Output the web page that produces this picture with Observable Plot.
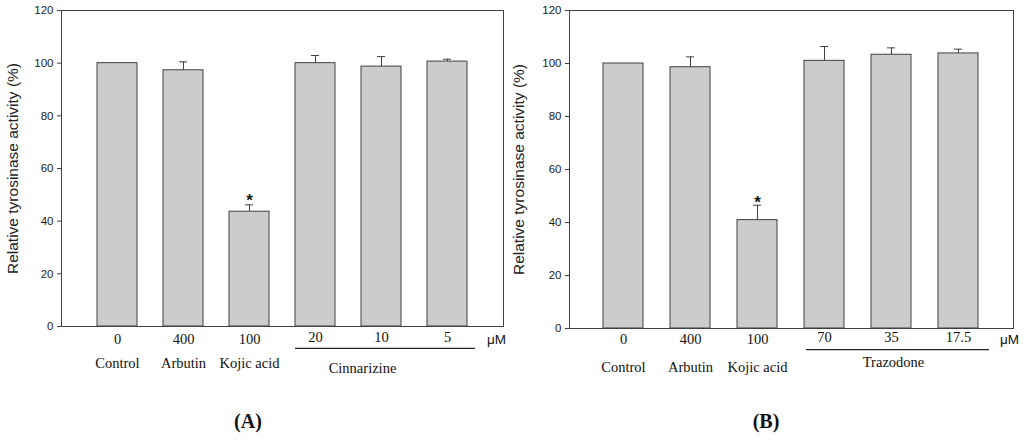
<!DOCTYPE html>
<html><head><meta charset="utf-8">
<script src="https://cdn.jsdelivr.net/npm/d3@7"></script>
<script src="https://cdn.jsdelivr.net/npm/@observablehq/plot@0.6"></script>
<style>
body{margin:0;background:#fff;width:1024px;height:441px;overflow:hidden;position:relative}
#row{display:flex;position:absolute;left:0;top:0}
.panel{position:absolute;top:410px;font:bold 20px "Liberation Serif","Times New Roman",serif;color:#111;transform:translateX(-50%)}
</style></head><body>
<div id="row"></div>
<div class="panel" style="left:248px">(A)</div>
<div class="panel" style="left:766px">(B)</div>
<script>
// Panel A
const compoundsA = ["Control","Arbutin","Kojic acid","Cinnarizine","Cinnarizine","Cinnarizine"];
const dosesA = ["0","400","100","20","10","5"];
const valuesA = [100, 97.3, 43.6, 100, 98.7, 100.6];
const errorsA = [0, 3.2, 2.6, 2.9, 3.8, 0.9];
// Panel B
const compoundsB = ["Control","Arbutin","Kojic acid","Trazodone","Trazodone","Trazodone"];
const dosesB = ["0","400","100","70","35","17.5"];
const valuesB = [100, 98.6, 40.9, 101.0, 103.3, 103.8];
const errorsB = [0, 3.9, 5.6, 5.4, 2.6, 1.6];
// Axis
const yTicks = [0, 20, 40, 60, 80, 100, 120];
const yLabel = "Relative tyrosinase activity (%)";
const unitLabel = "μM";
const sigLabel = "*";

const LINE = "#404040";
const SERIF = "Liberation Serif, Times New Roman, serif";
const SANS = "Liberation Sans, Arial, sans-serif";

function makePanel(cfg) {
  const {compounds, doses, values, errors, group} = cfg;
  const data = compounds.map((c, i) => ({
    key: c + " " + doses[i], compound: c, dose: doses[i],
    value: values[i], err: errors[i], upper: values[i] + errors[i]
  }));
  const singles = data.filter(d => d.compound !== group);
  const grouped = data.filter(d => d.compound === group);
  const withErr = data.filter(d => d.err > 0);
  const H = 380;
  const bottomText = {frameAnchor: "bottom", lineAnchor: "middle", textAnchor: "middle", fontFamily: SERIF, fontSize: 14.5, fill: "#111"};
  const plot = Plot.plot({
    width: 512, height: H,
    marginLeft: cfg.mL, marginRight: cfg.mR, marginTop: 10, marginBottom: cfg.mB,
    style: {fontFamily: SANS, fontSize: "11.5px", color: "#222", background: "#fff", overflow: "visible"},
    x: {domain: data.map(d => d.key), paddingInner: 0.4, paddingOuter: cfg.po, axis: null},
    y: {domain: [0, 120], axis: null},
    marks: [
      Plot.barY(data, {x: "key", y: "value", fill: "#cccccc", stroke: LINE, strokeWidth: 1}),
      Plot.ruleX(withErr, {x: "key", y1: "value", y2: "upper", stroke: LINE, strokeWidth: 1}),
      Plot.tickY(withErr, {x: "key", y: "upper", stroke: LINE, strokeWidth: 1, insetLeft: 16, insetRight: 16}),
      Plot.frame({stroke: LINE, strokeWidth: 1}),
      Plot.axisY({ticks: yTicks, tickSize: 4, tickPadding: 4, label: null, stroke: LINE, fontSize: 11.5}),
      Plot.text([yLabel], {frameAnchor: "left", textAnchor: "middle", lineAnchor: "middle", rotate: -90, dx: cfg.labelDx, fontSize: 15.5, fill: "#222"}),
      Plot.text(data.filter(d => d.compound === "Kojic acid"), {x: "key", y: "upper", text: () => sigLabel, dy: cfg.starDy, fontSize: 17, fontWeight: "bold", fill: "#111"}),
      Plot.text(singles, {...bottomText, x: "key", text: "dose", dy: cfg.doseDy}),
      Plot.text(grouped, {...bottomText, x: "key", text: "dose", dy: cfg.gDoseDy}),
      Plot.text(singles, {...bottomText, x: "key", text: "compound", dy: cfg.nameDy}),
      Plot.text([grouped[1]], {...bottomText, x: "key", text: "compound", dy: cfg.groupDy, dx: cfg.groupDx}),
      Plot.text([unitLabel], {frameAnchor: "bottom-right", textAnchor: "middle", lineAnchor: "middle", dx: cfg.muDx, dy: cfg.muDy, fontSize: 13.5, fill: "#111"})
    ]
  });
  // underline below the grouped doses, placed with the plot's own scales
  const sx = plot.scale("x"), sy = plot.scale("y");
  const x1 = sx.apply(grouped[0].key) + cfg.lineL;
  const x2 = sx.apply(grouped[grouped.length - 1].key) + sx.bandwidth + cfg.lineR;
  const yy = sy.apply(0) + cfg.lineDy;
  d3.select(plot).append("line")
    .attr("x1", x1).attr("x2", x2).attr("y1", yy).attr("y2", yy)
    .attr("stroke", "#222").attr("stroke-width", 1.2);
  return plot;
}

const row = document.getElementById("row");
row.append(makePanel({
  compounds: compoundsA, doses: dosesA, values: valuesA, errors: errorsA, group: "Cinnarizine",
  mL: 61, mR: 9, mB: 54, po: 0.53, labelDx: -48, starDy: -4.5,
  doseDy: 13.3, gDoseDy: 10.7, nameDy: 37, groupDy: 42, groupDx: -19,
  muDx: -7, muDy: 13, lineL: 0, lineR: 8, lineDy: 22.3
}));
row.append(makePanel({
  compounds: compoundsB, doses: dosesB, values: valuesB, errors: errorsB, group: "Trazodone",
  mL: 57, mR: 11, mB: 52, po: 0.506, labelDx: -50, starDy: -3,
  doseDy: 11, gDoseDy: 8.4, nameDy: 38.5, groupDy: 34, groupDx: 2,
  muDx: -4, muDy: 11.5, lineL: 2, lineR: 11, lineDy: 21.7
}));
</script>
</body></html>
